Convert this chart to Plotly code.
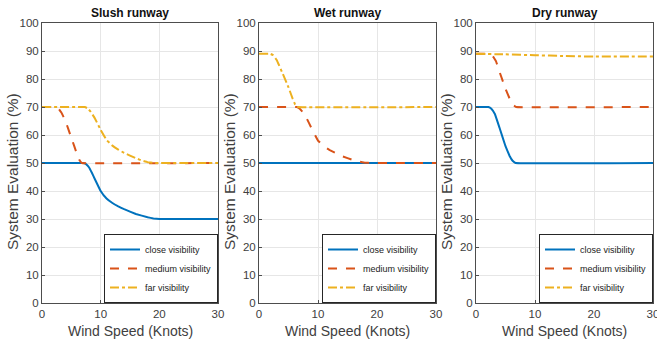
import plotly.graph_objects as go

# ---------------- data ----------------
panel_titles = ["Slush runway", "Wet runway", "Dry runway"]
series_names = ["close visibility", "medium visibility", "far visibility"]

# Slush runway
slush_close_x = [0, 7, 7.5, 8, 8.5, 9, 10, 11, 12, 13, 14, 16, 18, 19, 20, 30]
slush_close_y = [50, 50, 49.6, 48.5, 46.5, 44.3, 40, 37.3, 35.7, 34.5, 33.5, 31.8, 30.6, 30.2, 30, 30]
slush_medium_x = [0, 2.4, 2.8, 3.3, 4, 5, 6, 6.4, 6.8, 30]
slush_medium_y = [70, 70, 69.5, 68, 65, 59, 53, 51, 50, 50]
slush_far_x = [0, 7.3, 7.8, 8.3, 9, 10, 11, 12, 13, 14, 16, 17, 18, 19, 30]
slush_far_y = [70, 70, 69.5, 68.3, 66, 61.8, 58.2, 56.2, 54.8, 53.6, 51.7, 50.9, 50.3, 50, 50]

# Wet runway
wet_close_x = [0, 30]
wet_close_y = [50, 50]
wet_medium_x = [0, 6.4, 6.9, 7.5, 8, 9, 10, 11, 12, 14, 16, 17, 18, 19, 30]
wet_medium_y = [70, 70, 69.4, 68, 66.3, 62, 58, 56, 54.6, 52.5, 51, 50.5, 50.1, 50, 50]
wet_far_x = [0, 1.9, 2.4, 3, 4, 5, 5.7, 6.1, 6.5, 30]
wet_far_y = [89, 89, 88.5, 86.8, 82, 77, 73, 71, 70, 70]

# Dry runway
dry_close_x = [0, 2.1, 2.6, 3.2, 4, 5, 5.7, 6.2, 6.7, 30]
dry_close_y = [70, 70, 69.4, 67.5, 62.5, 56, 52.5, 50.8, 50, 50]
dry_medium_x = [0, 2.3, 2.8, 3.4, 4, 5, 5.8, 6.3, 6.8, 30]
dry_medium_y = [89, 89, 88.3, 86.3, 82.5, 76.5, 72.5, 70.7, 70, 70]
dry_far_x = [0, 5, 10, 15, 20, 30]
dry_far_y = [89, 88.8, 88.5, 88.2, 88, 88]

x_ticks = [0, 10, 20, 30]
y_ticks = [0, 10, 20, 30, 40, 50, 60, 70, 80, 90, 100]
x_title = "Wind Speed (Knots)"
y_title = "System Evaluation (%)"

panels = [
    [(slush_close_x, slush_close_y), (slush_medium_x, slush_medium_y), (slush_far_x, slush_far_y)],
    [(wet_close_x, wet_close_y), (wet_medium_x, wet_medium_y), (wet_far_x, wet_far_y)],
    [(dry_close_x, dry_close_y), (dry_medium_x, dry_medium_y), (dry_far_x, dry_far_y)],
]

# ---------------- style ----------------
W, H = 657, 344
colors = ["#0072BD", "#D95319", "#EDB120"]
dashes = ["solid", "dash", "dashdot"]
FONT = "Liberation Sans, Arial, Helvetica, sans-serif"
x_px = [(42, 218), (259, 436), (476, 653)]
y_px = (23, 303)

fig = go.Figure()
layout = dict(
    width=W, height=H,
    margin=dict(l=0, r=0, t=0, b=0, autoexpand=False),
    paper_bgcolor="white", plot_bgcolor="white",
    font=dict(family=FONT, size=11, color="#404040"),
    showlegend=True,
)
annotations = []
ydom = [1 - y_px[1] / H, 1 - y_px[0] / H]

for i, panel in enumerate(panels):
    sfx = "" if i == 0 else str(i + 1)
    xa = "x" + sfx
    ya = "y" + sfx
    leg = "legend" + sfx
    for j, (xs, ys) in enumerate(panel):
        fig.add_trace(go.Scatter(
            x=xs, y=ys, mode="lines", name=series_names[j],
            line=dict(color=colors[j], width=2, dash=dashes[j], shape="spline", smoothing=0.15),
            xaxis=xa, yaxis=ya, legend=leg,
        ))
    xd = [x_px[i][0] / W, x_px[i][1] / W]
    common = dict(showgrid=True, gridcolor="#e6e6e6", gridwidth=1,
                  showline=True, linecolor="#4d4d4d", linewidth=1, mirror=True,
                  ticks="inside", ticklen=3, tickcolor="#4d4d4d",
                  zeroline=False, automargin=False, ticklabeloverflow="allow",
                  tickfont=dict(family=FONT, size=11.5, color="#404040"))
    layout["xaxis" + sfx] = dict(domain=xd, range=[0, 30], tickvals=x_ticks,
                                 anchor=ya, **common)
    layout["yaxis" + sfx] = dict(domain=ydom, range=[0, 100], tickvals=y_ticks,
                                 anchor=xa, **common)
    layout[leg] = dict(
        x=xd[1], y=ydom[0], xanchor="right", yanchor="bottom",
        xref="paper", yref="paper",
        bgcolor="white", bordercolor="#262626", borderwidth=1,
        font=dict(family=FONT, size=9, color="#222222"),
        itemwidth=30, tracegroupgap=0,
    )
    cx = (xd[0] + xd[1]) / 2
    annotations.append(dict(text="<b>" + panel_titles[i] + "</b>", x=cx, y=1 - 13 / H,
                            xref="paper", yref="paper", showarrow=False,
                            xanchor="center", yanchor="middle",
                            font=dict(family=FONT, size=12, color="#111111")))
    annotations.append(dict(text=x_title, x=cx, y=1 - 331 / H,
                            xref="paper", yref="paper", showarrow=False,
                            xanchor="center", yanchor="middle",
                            font=dict(family=FONT, size=14, color="#404040")))
    annotations.append(dict(text=y_title, x=(x_px[i][0] - 30) / W, y=1 - 172 / H,
                            xref="paper", yref="paper", showarrow=False, textangle=-90,
                            xanchor="center", yanchor="middle",
                            font=dict(family=FONT, size=15.5, color="#404040")))

layout["annotations"] = annotations
fig.update_layout(**layout)
fig.write_html("out.html")
